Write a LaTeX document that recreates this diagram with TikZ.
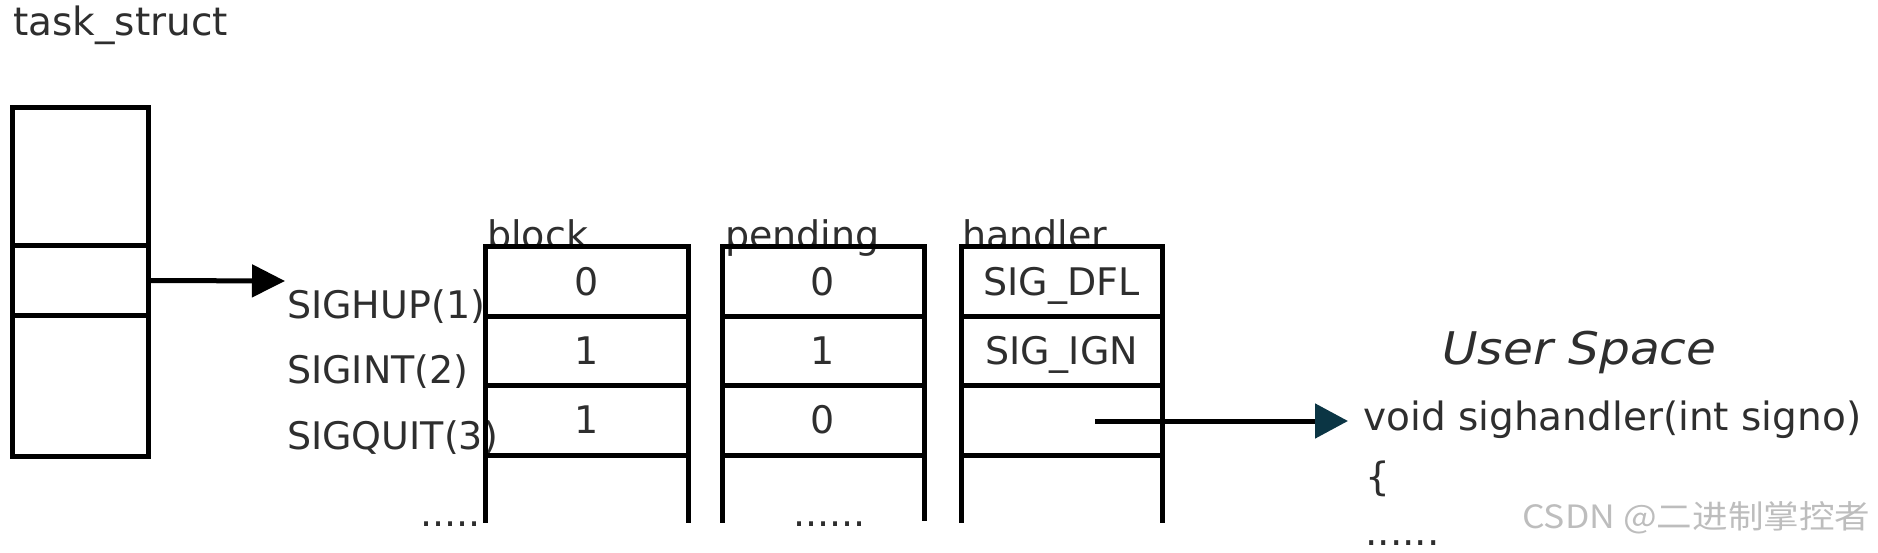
\documentclass[tikz,border=0pt]{standalone}
\usepackage{fontspec}
\setmainfont{DejaVu Sans}
\newfontfamily\cjkfont{Noto Sans CJK SC}
\usetikzlibrary{arrows.meta}
\definecolor{txt}{HTML}{2E2E2E}
\definecolor{tipc}{HTML}{0B3544}
\definecolor{wm}{HTML}{BDBDBD}
\begin{document}
\begin{tikzpicture}[x=1pt,y=-1pt,
  wall/.style={line width=5pt, draw=black, outer sep=0pt},
  lbl/.style={inner sep=0pt, anchor=base west, text=txt, font=\fontsize{38}{40}\selectfont},
  cellbox/.style={wall, inner sep=0pt, text=txt, font=\fontsize{38}{40}\selectfont,
     text height=27pt, text depth=0pt, minimum width=#1},
  cellbox/.default=203pt,
  ptr/.style={line width=5pt, draw=black, -{Triangle[width=32pt,length=33pt]}},
]
\useasboundingbox (0,0) rectangle (1878,553);

% task_struct
\node[lbl, font=\fontsize{39}{41}\selectfont] (tsl) at (13,36) {task\_struct};
\node[wall, minimum width=135.3pt, minimum height=138pt] (ts1) at (80.35,177) {};
\node[wall, minimum width=135.3pt, minimum height=69pt] (ts2) at (80.35,280.5) {};
\node[wall, minimum width=135.3pt, minimum height=141pt] (ts3) at (80.35,385.5) {};

% signal labels
\node[lbl] (s1) at (287,318) {SIGHUP(1)};
\node[lbl] (s2) at (287,383) {SIGINT(2)};
\node[lbl] (s3) at (287,449) {SIGQUIT(3)};
\node[lbl] (sd) at (420,526) {.....};

\coordinate (a1end) at (285,281);
\draw[ptr] (ts2.east) -- (a1end);

% column headers (drawn first so the top lines cover their feet)
\node[lbl] (hb) at (487,249) {block};
\node[lbl] (hp) at (725,249) {pending};
\node[lbl] (hh) at (962,249) {handler};

% block column
\node[cellbox, minimum height=69pt] (b1) at (586.5,281.5) {0};
\node[cellbox, minimum height=69pt] (b2) at (586.5,350.5) {1};
\node[cellbox, minimum height=70pt] (b3) at (586.5,420) {1};
\draw[wall] (b3.south west) -- ++(0,68);
\draw[wall] (b3.south east) -- ++(0,68);

% pending column
\node[cellbox=202pt, minimum height=69pt] (p1) at (823,281.5) {0};
\node[cellbox=202pt, minimum height=69pt] (p2) at (823,350.5) {1};
\node[cellbox=202pt, minimum height=70pt] (p3) at (823,420) {0};
\draw[wall] (p3.south west) -- ++(0,68);
\draw[wall] (p3.south east) -- ++(0,66);
\node[lbl] (pd) at (793,526) {......};

% handler column
\node[cellbox=201pt, minimum height=69pt] (h1) at (1061.5,281.5) {SIG\_DFL};
\node[cellbox=201pt, minimum height=69pt] (h2) at (1061.5,350.5) {SIG\_IGN};
\node[cellbox=201pt, minimum height=70pt] (h3) at (1061.5,420) {};
\draw[wall] (h3.south west) -- ++(0,68);
\draw[wall] (h3.south east) -- ++(0,68);

% user space
\node[lbl, font=\fontsize{45}{47}\selectfont\itshape] (us) at (1442,364) {\scalebox{1.08}[1]{User Space}};
\node[lbl, font=\fontsize{39}{41}\selectfont] (fn) at (1363,430) {void sighandler(int signo)};
\node[lbl, font=\fontsize{39}{41}\selectfont] (br) at (1365,490) {\{};
\node[lbl, font=\fontsize{39}{41}\selectfont] (ud) at (1365,545) {......};

\coordinate (a2start) at (1095,421);
\coordinate (a2end) at (1348,421);
\draw[line width=5pt, draw=black, -{Triangle[width=34pt,length=33pt,color=tipc]}] (a2start) -- (a2end);

% watermark
\node[inner sep=0pt, anchor=base west, text=wm] (wmk) at (1522,528)
  {\resizebox{348pt}{27pt}{\cjkfont CSDN @二进制掌控者}};
\end{tikzpicture}
\end{document}
